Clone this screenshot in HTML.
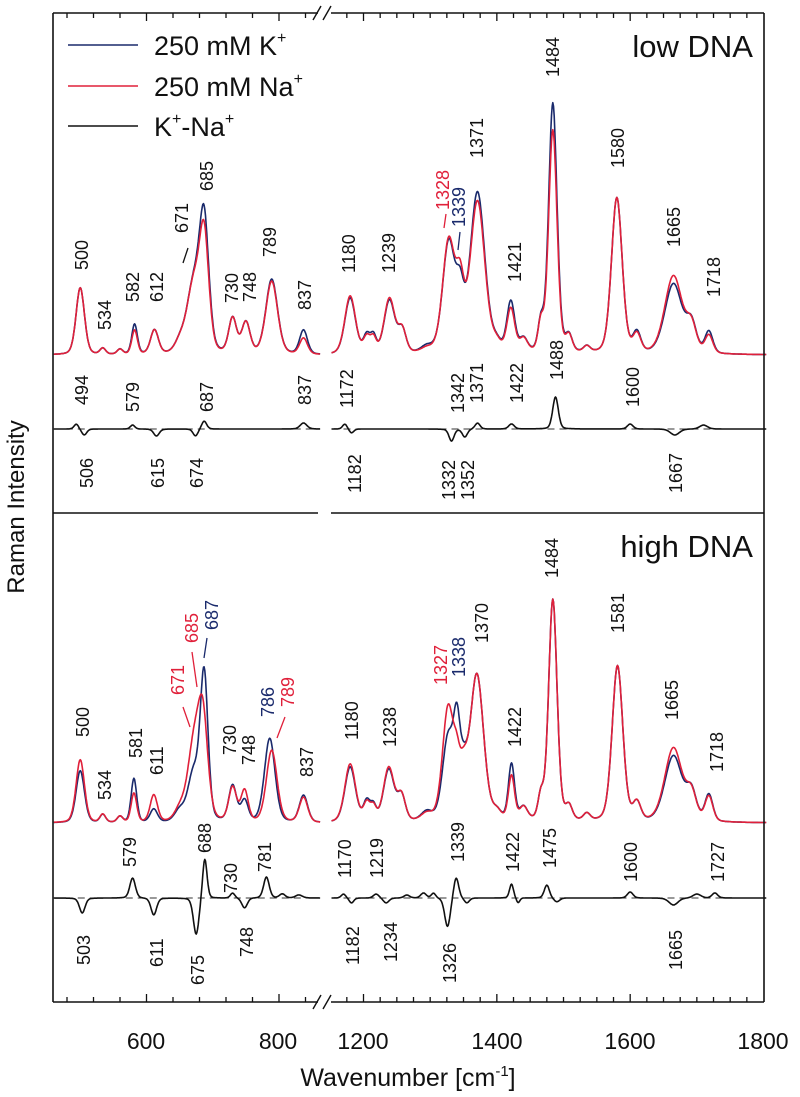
<!DOCTYPE html>
<html><head><meta charset="utf-8">
<style>
html,body{margin:0;padding:0;background:#fff;}
svg{display:block;font-family:"Liberation Sans",Arial,sans-serif;}
.lb{font-size:18px;fill:#111;}
.r{fill:#e0203a;}
.b{fill:#1a2a6c;}
</style></head>
<body>
<svg id="chart" width="800" height="1097" viewBox="0 0 800 1097" xmlns="http://www.w3.org/2000/svg">
<rect x="0" y="0" width="800" height="1097" fill="#fff"/>
<g id="ticks"></g>
<g id="series"></g>
<g stroke="#111" stroke-width="1.6" fill="none">
<line x1="53" y1="13" x2="53" y2="1002"/>
<line x1="764" y1="13" x2="764" y2="1002"/>
<line x1="53" y1="13" x2="318" y2="13"/><line x1="331" y1="13" x2="764" y2="13"/>
<line x1="53" y1="1002" x2="318" y2="1002"/><line x1="331" y1="1002" x2="764" y2="1002"/>
<line x1="53" y1="513" x2="318" y2="513"/><line x1="331" y1="513" x2="764" y2="513"/>
</g>
<g stroke="#111" stroke-width="1.4">
<line x1="313" y1="20" x2="321" y2="6"/><line x1="323" y1="20" x2="331" y2="6"/>
<line x1="313" y1="1009" x2="321" y2="995"/><line x1="323" y1="1009" x2="331" y2="995"/>
</g>
<g>
<line x1="68" y1="45" x2="138" y2="45" stroke="#1a2a6c" stroke-width="1.6"/>
<text x="154" y="55" font-size="27" fill="#111">250 mM K<tspan font-size="16" dy="-12">+</tspan></text>
<line x1="68" y1="86" x2="138" y2="86" stroke="#e0203a" stroke-width="1.6"/>
<text x="154" y="96" font-size="27" fill="#111">250 mM Na<tspan font-size="16" dy="-12">+</tspan></text>
<line x1="68" y1="126" x2="138" y2="126" stroke="#111" stroke-width="1.6"/>
<text x="154" y="136" font-size="27" fill="#111">K<tspan font-size="16" dy="-12">+</tspan><tspan dy="12">-Na</tspan><tspan font-size="16" dy="-12">+</tspan></text>
</g>
<text x="753" y="57" font-size="31" text-anchor="end" fill="#111">low DNA</text>
<text x="753" y="557" font-size="31" text-anchor="end" fill="#111">high DNA</text>
<text transform="translate(24,507) rotate(-90)" font-size="24" text-anchor="middle" fill="#111">Raman Intensity</text>
<text x="408" y="1086" font-size="25" text-anchor="middle" fill="#111">Wavenumber [cm<tspan font-size="15" dy="-10">-1</tspan><tspan dy="10">]</tspan></text>
<g font-size="23" fill="#111" text-anchor="middle">
<text x="146" y="1049">600</text><text x="278" y="1049">800</text>
<text x="363" y="1049">1200</text><text x="497" y="1049">1400</text>
<text x="630" y="1049">1600</text><text x="763" y="1049">1800</text>
</g>
<g>
<g class="lb">
<text transform="translate(88,270) rotate(-90)">500</text>
<text transform="translate(111,330) rotate(-90)">534</text>
<text transform="translate(139,302) rotate(-90)">582</text>
<text transform="translate(163,302) rotate(-90)">612</text>
<text transform="translate(188,233) rotate(-90)">671</text>
<text transform="translate(213,191) rotate(-90)">685</text>
<text transform="translate(238,303) rotate(-90)">730</text>
<text transform="translate(256,302) rotate(-90)">748</text>
<text transform="translate(276,257) rotate(-90)">789</text>
<text transform="translate(311,310) rotate(-90)">837</text>
<text transform="translate(88,405) rotate(-90)">494</text>
<text transform="translate(139,412) rotate(-90)">579</text>
<text transform="translate(213,412) rotate(-90)">687</text>
<text transform="translate(311,405) rotate(-90)">837</text>
<text transform="translate(93,488) rotate(-90)">506</text>
<text transform="translate(164,488) rotate(-90)">615</text>
<text transform="translate(203,488) rotate(-90)">674</text>
<text transform="translate(559,77) rotate(-90)">1484</text>
<text transform="translate(483,158) rotate(-90)">1371</text>
<text class="r" transform="translate(449,210) rotate(-90)">1328</text>
<text class="b" transform="translate(465,227) rotate(-90)">1339</text>
<text transform="translate(355,273) rotate(-90)">1180</text>
<text transform="translate(395,273) rotate(-90)">1239</text>
<text transform="translate(521,282) rotate(-90)">1421</text>
<text transform="translate(624,168) rotate(-90)">1580</text>
<text transform="translate(680,247) rotate(-90)">1665</text>
<text transform="translate(720,297) rotate(-90)">1718</text>
<text transform="translate(353,408) rotate(-90)">1172</text>
<text transform="translate(464,413) rotate(-90)">1342</text>
<text transform="translate(483,403) rotate(-90)">1371</text>
<text transform="translate(523,403) rotate(-90)">1422</text>
<text transform="translate(563,380) rotate(-90)">1488</text>
<text transform="translate(639,407) rotate(-90)">1600</text>
<text transform="translate(361,493) rotate(-90)">1182</text>
<text transform="translate(455,500) rotate(-90)">1332</text>
<text transform="translate(474,500) rotate(-90)">1352</text>
<text transform="translate(682,493) rotate(-90)">1667</text>
<text transform="translate(89,737) rotate(-90)">500</text>
<text transform="translate(111,800) rotate(-90)">534</text>
<text transform="translate(142,758) rotate(-90)">581</text>
<text transform="translate(163,775) rotate(-90)">611</text>
<text class="r" transform="translate(184,695) rotate(-90)">671</text>
<text class="r" transform="translate(198,643) rotate(-90)">685</text>
<text class="b" transform="translate(218,630) rotate(-90)">687</text>
<text transform="translate(236,755) rotate(-90)">730</text>
<text transform="translate(255,765) rotate(-90)">748</text>
<text class="b" transform="translate(274,717) rotate(-90)">786</text>
<text class="r" transform="translate(294,707) rotate(-90)">789</text>
<text transform="translate(313,777) rotate(-90)">837</text>
<text transform="translate(136,867) rotate(-90)">579</text>
<text transform="translate(211,853) rotate(-90)">688</text>
<text transform="translate(237,893) rotate(-90)">730</text>
<text transform="translate(271,872) rotate(-90)">781</text>
<text transform="translate(90,965) rotate(-90)">503</text>
<text transform="translate(163,967) rotate(-90)">611</text>
<text transform="translate(204,985) rotate(-90)">675</text>
<text transform="translate(253,957) rotate(-90)">748</text>
<text transform="translate(558,578) rotate(-90)">1484</text>
<text transform="translate(624,633) rotate(-90)">1581</text>
<text transform="translate(488,643) rotate(-90)">1370</text>
<text class="r" transform="translate(447,685) rotate(-90)">1327</text>
<text class="b" transform="translate(465,677) rotate(-90)">1338</text>
<text transform="translate(358,740) rotate(-90)">1180</text>
<text transform="translate(396,747) rotate(-90)">1238</text>
<text transform="translate(521,747) rotate(-90)">1422</text>
<text transform="translate(678,720) rotate(-90)">1665</text>
<text transform="translate(723,772) rotate(-90)">1718</text>
<text transform="translate(351,878) rotate(-90)">1170</text>
<text transform="translate(383,878) rotate(-90)">1219</text>
<text transform="translate(464,862) rotate(-90)">1339</text>
<text transform="translate(519,872) rotate(-90)">1422</text>
<text transform="translate(556,868) rotate(-90)">1475</text>
<text transform="translate(637,882) rotate(-90)">1600</text>
<text transform="translate(724,882) rotate(-90)">1727</text>
<text transform="translate(359,965) rotate(-90)">1182</text>
<text transform="translate(397,962) rotate(-90)">1234</text>
<text transform="translate(456,983) rotate(-90)">1326</text>
<text transform="translate(682,970) rotate(-90)">1665</text>
</g>
<g stroke-width="1.3">
<line x1="183" y1="263" x2="188" y2="248" stroke="#111"/>
<line x1="444" y1="228" x2="446" y2="214" stroke="#e0203a"/>
<line x1="458" y1="250" x2="460" y2="232" stroke="#1a2a6c"/>
<line x1="190" y1="727" x2="183" y2="707" stroke="#e0203a"/>
<line x1="197" y1="687" x2="192" y2="652" stroke="#e0203a"/>
<line x1="204" y1="658" x2="207" y2="638" stroke="#1a2a6c"/>
<line x1="277" y1="738" x2="285" y2="717" stroke="#e0203a"/>
</g>
</g>
<script>
// peak tables: [wavenumber, height, FWHM]
const lowK = [[500,67,15],[534,6,10],[560,5,10],[582,30,10],[612,24,14],[650,10,18],[671,68,24],[687,128,17],[730,35,14],[750,31,15],[789,75,21],[837,24,14],
 [1180,56,19],[1205,18,12],[1215,16,10],[1239,53,19],[1258,23,14],[1295,6,20],[1328,110,22],[1345,48,14],[1371,160,26],[1400,8,15],[1421,50,14],[1440,13,14],[1466,28,10],[1484,250,15],[1508,16,12],[1535,6,12],[1580,156,19],[1610,20,14],[1665,70,31],[1692,28,18],[1718,22,14]];
const lowNa = [[500,67,15],[534,6,10],[560,5,10],[582,24,10],[612,24,14],[650,10,18],[671,68,24],[687,112,17],[730,35,14],[750,31,15],[789,73,21],[837,16,14],
 [1180,58,19],[1205,16,12],[1215,14,10],[1239,55,19],[1258,23,14],[1295,4,20],[1328,112,22],[1345,56,14],[1371,151,26],[1400,8,15],[1421,43,14],[1440,13,14],[1466,28,10],[1484,223,15],[1508,16,12],[1535,6,12],[1580,156,19],[1610,18,14],[1665,78,31],[1692,26,18],[1718,18,14]];
const lowDiff = [[494,5,8],[506,-6,9],[579,4,8],[615,-7,10],[674,-7,9],[687,8,9],[837,6,12],
 [1172,5,8],[1182,-4,8],[1332,-12,9],[1352,-8,9],[1371,6,9],[1422,5,10],[1488,32,10],[1600,5,10],[1667,-6,16],[1710,4,14]];
const highK = [[500,52,15],[534,8,10],[560,6,10],[581,44,10],[611,13,13],[650,11,18],[671,48,20],[687,146,14],[730,36,14],[748,21,13],[786,84,19],[837,27,15],
 [1180,55,19],[1205,20,12],[1215,14,10],[1238,52,19],[1257,25,14],[1295,9,20],[1327,82,20],[1340,77,12],[1350,37,14],[1370,146,24],[1400,8,15],[1422,56,11],[1440,13,14],[1466,23,10],[1484,222,15],[1508,14,12],[1535,7,12],[1581,156,19],[1610,18,14],[1665,66,31],[1692,28,18],[1718,27,14]];
const highNa = [[500,63,15],[534,8,10],[560,6,10],[581,29,10],[611,27,13],[650,11,18],[671,72,22],[685,100,18],[730,34,14],[748,31,13],[789,72,19],[837,25,15],
 [1180,58,19],[1205,18,12],[1215,13,10],[1238,54,19],[1257,25,14],[1295,7,20],[1327,112,20],[1340,37,12],[1350,37,14],[1370,146,24],[1400,8,15],[1422,44,11],[1440,13,14],[1466,23,10],[1484,222,15],[1508,14,12],[1535,7,12],[1581,156,19],[1610,18,14],[1665,74,31],[1692,26,18],[1718,25,14]];
const highDiff = [[503,-15,10],[579,20,10],[611,-17,10],[675,-37,10],[688,40,8],[730,5,8],[748,-10,10],[781,21,10],[805,4,10],[830,3,12],
 [1170,4,8],[1182,-5,8],[1219,4,10],[1234,-5,10],[1265,3,10],[1290,5,10],[1305,5,8],[1326,-29,10],[1339,21,9],[1355,-5,9],[1422,14,7],[1432,-5,6],[1475,13,9],[1490,-4,10],[1600,6,10],[1665,-7,16],[1700,4,14],[1727,5,10]];
const leftRange = [460, 862];
const rightRange = [1152, 1804];

const NS = 'http://www.w3.org/2000/svg';
function xL(v){ return 146.5 + (v - 600) * 0.6625; }
function xR(v){ return 363.5 + (v - 1200) * 0.6667; }
function inten(peaks, v){
  let s = 0;
  for (const p of peaks){
    const d = (v - p[0]) / p[2];
    const g = Math.exp(-2.7726 * d * d), l = 1 / (1 + 4 * d * d);
    s += p[1] * (0.75 * g + 0.25 * l);
  }
  return s;
}
const gS = document.getElementById('series');
function drawSeries(peaks, base, color, name){
  [[leftRange, xL], [rightRange, xR]].forEach(([r, fx], i) => {
    let d = '';
    for (let v = r[0]; v <= r[1]; v += 1){
      const y = base - inten(peaks, v);
      d += (v === r[0] ? 'M' : 'L') + fx(v).toFixed(1) + ',' + y.toFixed(1);
    }
    const p = document.createElementNS(NS, 'path');
    p.setAttribute('d', d);
    p.setAttribute('fill', 'none');
    p.setAttribute('stroke', color);
    p.setAttribute('stroke-width', '1.6');
    p.setAttribute('stroke-linejoin', 'round');
    
    
    gS.appendChild(p);
  });
}
function drawDash(base, name){
  [[leftRange, xL], [rightRange, xR]].forEach(([r, fx]) => {
    const l = document.createElementNS(NS, 'line');
    l.setAttribute('x1', fx(r[0])); l.setAttribute('x2', fx(r[1]));
    l.setAttribute('y1', base); l.setAttribute('y2', base);
    l.setAttribute('stroke', '#333'); l.setAttribute('stroke-width', '1');
    l.setAttribute('stroke-dasharray', '7,5');
    
    
    gS.appendChild(l);
  });
}
drawDash(429, 'low-diff-zero-line');
drawDash(898, 'high-diff-zero-line');
drawSeries(lowK, 355, '#1a2a6c', 'low-k-spectrum');
drawSeries(lowNa, 355, '#e0203a', 'low-na-spectrum');
drawSeries(lowDiff, 429, '#111', 'low-diff-spectrum');
drawSeries(highK, 823, '#1a2a6c', 'high-k-spectrum');
drawSeries(highNa, 823, '#e0203a', 'high-na-spectrum');
drawSeries(highDiff, 898, '#111', 'high-diff-spectrum');

const gT = document.getElementById('ticks');
function tick(x, y, len){
  const l = document.createElementNS(NS, 'line');
  l.setAttribute('x1', x); l.setAttribute('x2', x);
  l.setAttribute('y1', y); l.setAttribute('y2', y + len);
  l.setAttribute('stroke', '#111'); l.setAttribute('stroke-width', '1.3');
  
  
  gT.appendChild(l);
}
for (let v = 480; v <= 860; v += 40){ const big = v % 200 === 0; tick(xL(v), 13, big ? 8 : 5); tick(xL(v), 1002, big ? -8 : -5); }
for (let v = 1175; v < 1800; v += 25){ const big = v % 200 === 0; tick(xR(v), 13, big ? 8 : 5); tick(xR(v), 1002, big ? -8 : -5); }
</script>
</svg>
</body></html>
